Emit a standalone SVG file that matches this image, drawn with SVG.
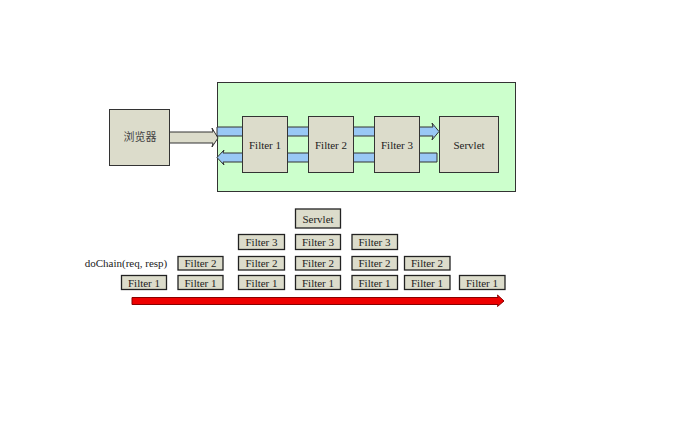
<svg xmlns="http://www.w3.org/2000/svg" width="680" height="427" viewBox="0 0 680 427">
<style>
.box{fill:#dcdccb;stroke:#333;stroke-width:1}
.sbox{fill:#dcdccb;stroke:#222;stroke-width:1.3}
.t{font-family:"Liberation Serif","Times New Roman",serif;font-size:11px;fill:#222;text-anchor:middle;dominant-baseline:central}
.cjk{font-family:"Liberation Serif","Noto Sans CJK SC",serif;font-size:11px;fill:#444;text-anchor:middle;dominant-baseline:central}
.blue{fill:#99c8f5;stroke:#333;stroke-width:1}
</style>
<rect width="680" height="427" fill="#fff"/>
<g id="container">
<rect x="217.5" y="82.5" width="298" height="109" fill="#ccffcc" stroke="#333" stroke-width="1"/>
</g>
<g id="connectors">
<polygon points="169,132 213,132 212,128 218,138 212,147 213,143 169,143" fill="#dcdccb" stroke="#333" stroke-width="1"/>
<polygon class="blue" points="217,127 433,127 432,123 439,131.5 432,140 433,136 217,136"/>
<polygon class="blue" points="437,153 223,153 224,150 217,157.5 224,165 223,162 437,162"/>
<polygon points="132,297.5 498,297.5 497.5,295 504,301 497.5,306.5 498,304.5 132,304.5" fill="#ee0000" stroke="#880000" stroke-width="1"/>
</g>
<g id="browser">
<rect class="box" x="109.5" y="109.5" width="60" height="56"/>
<text class="cjk" x="140" y="137">浏览器</text>
</g>
<g id="filter1">
<rect class="box" x="242.5" y="116.5" width="45" height="56"/>
<text class="t" x="265" y="145">Filter 1</text>
</g>
<g id="filter2">
<rect class="box" x="308.5" y="116.5" width="45" height="56"/>
<text class="t" x="331" y="145">Filter 2</text>
</g>
<g id="filter3">
<rect class="box" x="374.5" y="116.5" width="45" height="56"/>
<text class="t" x="397" y="145">Filter 3</text>
</g>
<g id="servlet">
<rect class="box" x="439.5" y="116.5" width="59" height="56"/>
<text class="t" x="469" y="145">Servlet</text>
</g>
<text class="t" x="126" y="263" style="text-anchor:middle">doChain(req, resp)</text>
<g id="stack1">
<rect class="sbox" x="121.5" y="275.5" width="45" height="14"/><text class="t" x="144" y="282.5">Filter 1</text>
</g>
<g id="stack2">
<rect class="sbox" x="178" y="256.5" width="45" height="13.5"/><text class="t" x="200.5" y="263">Filter 2</text>
<rect class="sbox" x="178" y="275.5" width="45" height="14"/><text class="t" x="200.5" y="282.5">Filter 1</text>
</g>
<g id="stack3">
<rect class="sbox" x="238.5" y="234.5" width="46" height="15"/><text class="t" x="261.5" y="242">Filter 3</text>
<rect class="sbox" x="238.5" y="256.5" width="46" height="13.5"/><text class="t" x="261.5" y="263">Filter 2</text>
<rect class="sbox" x="238.5" y="275.5" width="46" height="14"/><text class="t" x="261.5" y="282.5">Filter 1</text>
</g>
<g id="stack4">
<rect class="sbox" x="295.5" y="209" width="45" height="19"/><text class="t" x="318" y="218.5">Servlet</text>
<rect class="sbox" x="295.5" y="234.5" width="45" height="15"/><text class="t" x="318" y="242">Filter 3</text>
<rect class="sbox" x="295.5" y="256.5" width="45" height="13.5"/><text class="t" x="318" y="263">Filter 2</text>
<rect class="sbox" x="295.5" y="275.5" width="45" height="14"/><text class="t" x="318" y="282.5">Filter 1</text>
</g>
<g id="stack5">
<rect class="sbox" x="352" y="234.5" width="45.5" height="15"/><text class="t" x="374.5" y="242">Filter 3</text>
<rect class="sbox" x="352" y="256.5" width="45.5" height="13.5"/><text class="t" x="374.5" y="263">Filter 2</text>
<rect class="sbox" x="352" y="275.5" width="45.5" height="14"/><text class="t" x="374.5" y="282.5">Filter 1</text>
</g>
<g id="stack6">
<rect class="sbox" x="404.5" y="256.5" width="45.5" height="13.5"/><text class="t" x="427" y="263">Filter 2</text>
<rect class="sbox" x="404.5" y="275.5" width="45.5" height="14"/><text class="t" x="427" y="282.5">Filter 1</text>
</g>
<g id="stack7">
<rect class="sbox" x="459.5" y="275.5" width="45.5" height="14"/><text class="t" x="482" y="282.5">Filter 1</text>
</g>
</svg>
